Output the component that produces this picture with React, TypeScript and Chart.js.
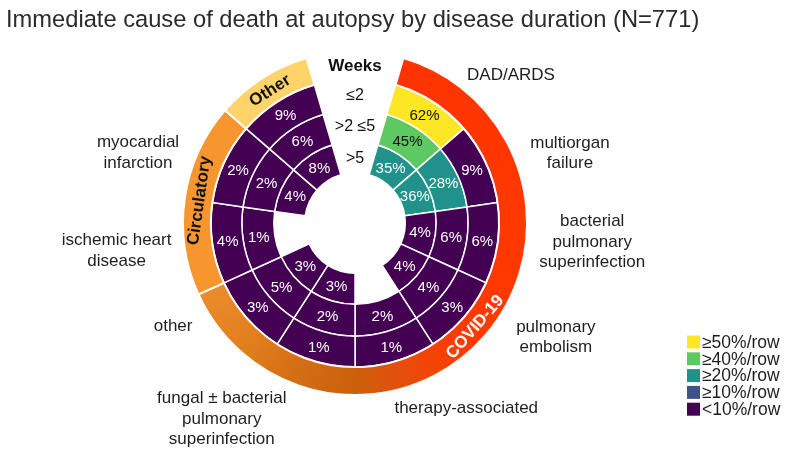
import React, { useEffect, useRef } from 'react';
import { Chart, registerables } from 'chart.js';

Chart.register(...registerables);

// ---------- data ----------
const title = 'Immediate cause of death at autopsy by disease duration (N=771)';
const causeLabels: string[][] = [
  ['DAD/ARDS'],
  ['multiorgan', 'failure'],
  ['bacterial', 'pulmonary', 'superinfection'],
  ['pulmonary', 'embolism'],
  ['therapy-associated'],
  ['fungal ± bacterial', 'pulmonary', 'superinfection'],
  ['other'],
  ['ischemic heart', 'disease'],
  ['myocardial', 'infarction'],
  [],
];
const weekRows = ['≤2', '>2 ≤5', '>5'];
const weekHeader = 'Weeks';
// percent per row (outer ring = ≤2 weeks, inner ring = >5 weeks)
const pctLe2: (number | null)[] = [62, 9, 6, 3, 1, 1, 3, 4, 2, 9];
const pct2to5: (number | null)[] = [45, 28, 6, 4, 2, 2, 5, 1, 2, 6];
const pctGt5: (number | null)[] = [35, 36, 4, 4, null, 3, 3, null, 4, 8];
const groups = ['COVID-19', 'Circulatory', 'Other'];
const groupSizes = [7, 2, 1];
const legendLabels = ['≥50%/row', '≥40%/row', '≥20%/row', '≥10%/row', '<10%/row'];
const legendThresholds = [50, 40, 20, 10, 0];

// ---------- styles ----------
const viridis = ['#fde725', '#5ec962', '#21918c', '#3b528b', '#440154'];
const groupColors = ['#ff3300', '#f7952f', '#fdd36a'];
const FONT = '"Liberation Sans", Arial, Helvetica, sans-serif';
// label anchor placement (compass angle in degrees, radius in px from centre)
const labelPolar: number[][] = [
  [46.5, 215], [72, 226], [94.6, 238], [119.6, 231], [149, 216],
  [214.2, 237], [240.5, 209], [263.3, 240], [287.9, 228],
];

function cellColor(v: number | null) {
  if (v == null) return 'rgba(0,0,0,0)';
  for (let k = 0; k < legendThresholds.length; k++) {
    if (v >= legendThresholds[k]) return viridis[k];
  }
  return viridis[viridis.length - 1];
}

const rings = [pctLe2, pct2to5, pctGt5];
const GAP = causeLabels.length; // index of the empty header slice in the ring datasets

const overlay = {
  id: 'overlay',
  afterDatasetsDraw(chart: any) {
    const ctx: CanvasRenderingContext2D = chart.ctx;
    const area = chart.chartArea;
    const cx = (area.left + area.right) / 2;
    const cy = (area.top + area.bottom) / 2;
    ctx.save();

    // title
    ctx.font = `23.7px ${FONT}`;
    ctx.fillStyle = '#2b2b2b';
    ctx.textAlign = 'left';
    ctx.textBaseline = 'alphabetic';
    ctx.fillText(title, 6, 27);

    // percentages in cells
    ctx.textAlign = 'center';
    ctx.textBaseline = 'middle';
    ctx.font = `15px ${FONT}`;
    rings.forEach((arr, r) => {
      const meta = chart.getDatasetMeta(r + 1);
      arr.forEach((v, i) => {
        if (v == null) return;
        const el = meta.data[i];
        const p = el.tooltipPosition(true);
        ctx.fillStyle = v >= 40 ? '#111111' : '#ffffff';
        ctx.fillText(`${v}%`, p.x, p.y + 1);
      });
    });

    // group labels on outer ring
    const gm = chart.getDatasetMeta(0);
    ctx.font = `bold 17px ${FONT}`;
    groups.forEach((g, i) => {
      const el = gm.data[i];
      const pr = el.getProps(['startAngle', 'endAngle', 'innerRadius', 'outerRadius', 'x', 'y'], true);
      const a = (pr.startAngle + pr.endAngle) / 2;
      const rr = (pr.innerRadius + pr.outerRadius) / 2;
      const x = pr.x + rr * Math.cos(a);
      const y = pr.y + rr * Math.sin(a);
      let rot = a + Math.PI / 2;
      const norm = ((rot % (2 * Math.PI)) + 2 * Math.PI) % (2 * Math.PI);
      if (norm > Math.PI / 2 && norm < (3 * Math.PI) / 2) rot += Math.PI;
      ctx.save();
      ctx.translate(x, y);
      ctx.rotate(rot);
      ctx.fillStyle = i === 0 ? '#ffffff' : '#111111';
      ctx.fillText(g, 0, 1);
      ctx.restore();
    });

    // week header + row labels in the gap
    const gapEl = gm.data[groups.length];
    const gp = gapEl.getProps(['innerRadius', 'outerRadius', 'x', 'y'], true);
    ctx.fillStyle = '#111111';
    ctx.font = `bold 17px ${FONT}`;
    ctx.fillText(weekHeader, cx, gp.y - (gp.innerRadius + gp.outerRadius) / 2 + 1);
    ctx.font = `16px ${FONT}`;
    weekRows.forEach((w, r) => {
      const el = chart.getDatasetMeta(r + 1).data[GAP];
      const pr = el.getProps(['innerRadius', 'outerRadius', 'x', 'y'], true);
      ctx.fillText(w, cx, pr.y - (pr.innerRadius + pr.outerRadius) / 2 + 1);
    });

    // cause labels
    ctx.font = `17px ${FONT}`;
    ctx.fillStyle = '#1e1e1e';
    const lh = 20.5;
    causeLabels.forEach((lines, i) => {
      if (!lines.length) return;
      const [deg, rad] = labelPolar[i];
      const a = (deg * Math.PI) / 180;
      const x = cx + rad * Math.sin(a);
      const y = cy - rad * Math.cos(a);
      lines.forEach((ln, k) => {
        ctx.fillText(ln, x, y + (k - (lines.length - 1) / 2) * lh);
      });
    });

    // legend
    const lx = 687;
    const ly = 342;
    const step = 16.8;
    ctx.textAlign = 'left';
    ctx.font = `17.5px ${FONT}`;
    legendLabels.forEach((t, k) => {
      const y = ly + k * step;
      ctx.fillStyle = viridis[k];
      ctx.fillRect(lx, y - 6.5, 13, 13);
      ctx.fillStyle = '#1e1e1e';
      ctx.fillText(t, lx + 15, y + 1);
    });

    ctx.restore();
  },
};

export default function App() {
  const ref = useRef<HTMLCanvasElement>(null);
  useEffect(() => {
    if (!ref.current) return;
    const ones = causeLabels.map(() => 1);
    const covidGradient = (c: any) => {
      const chart = c.chart;
      const area = chart.chartArea;
      if (!area) return groupColors[0];
      const x = (area.left + area.right) / 2;
      const y = (area.top + area.bottom) / 2;
      const g = chart.ctx.createConicGradient(-Math.PI / 2, x, y);
      g.addColorStop(0, '#ff3300');
      g.addColorStop(0.38, '#ff3a00');
      g.addColorStop(0.45, '#e84c0c');
      g.addColorStop(0.5, '#cc600c');
      g.addColorStop(0.56, '#d46e14');
      g.addColorStop(0.62, '#e2801f');
      g.addColorStop(0.69, '#ee8d2d');
      g.addColorStop(1, '#ee8d2d');
      return g;
    };
    const chart = new Chart(ref.current, {
      type: 'doughnut',
      data: {
        labels: [...causeLabels.map((l) => l.join(' ')), weekHeader],
        datasets: [
          {
            data: [...groupSizes, 1],
            weight: 28,
            backgroundColor: (c: any) =>
              c.dataIndex === 0 ? covidGradient(c) : c.dataIndex < groups.length ? groupColors[c.dataIndex] : 'rgba(0,0,0,0)',
            borderWidth: (c: any) => (c.dataIndex < groups.length ? 2 : 0),
          } as any,
          ...rings.map((arr, r) => ({
            data: [...ones, 1],
            weight: [31, 32, 31][r],
            backgroundColor: [...arr.map(cellColor), 'rgba(0,0,0,0)'],
            borderWidth: [...arr.map((v) => (v == null ? 0 : 1.5)), 0],
          })),
        ],
      },
      options: {
        responsive: false,
        animation: false,
        events: [],
        rotation: 360 / 22,
        cutout: 50,
        radius: 172,
        layout: { padding: { left: 183, top: 51, right: 266, bottom: 62 } },
        elements: { arc: { borderColor: '#ffffff', borderAlign: 'center' } },
        plugins: { legend: { display: false }, tooltip: { enabled: false }, title: { display: false } },
      } as any,
      plugins: [overlay],
    });
    return () => chart.destroy();
  }, []);
  return (
    <div style={{ position: 'fixed', left: 0, top: 0, width: 793, height: 457, background: '#fff' }}>
      <canvas ref={ref} width={793} height={457} style={{ display: 'block' }} />
    </div>
  );
}
